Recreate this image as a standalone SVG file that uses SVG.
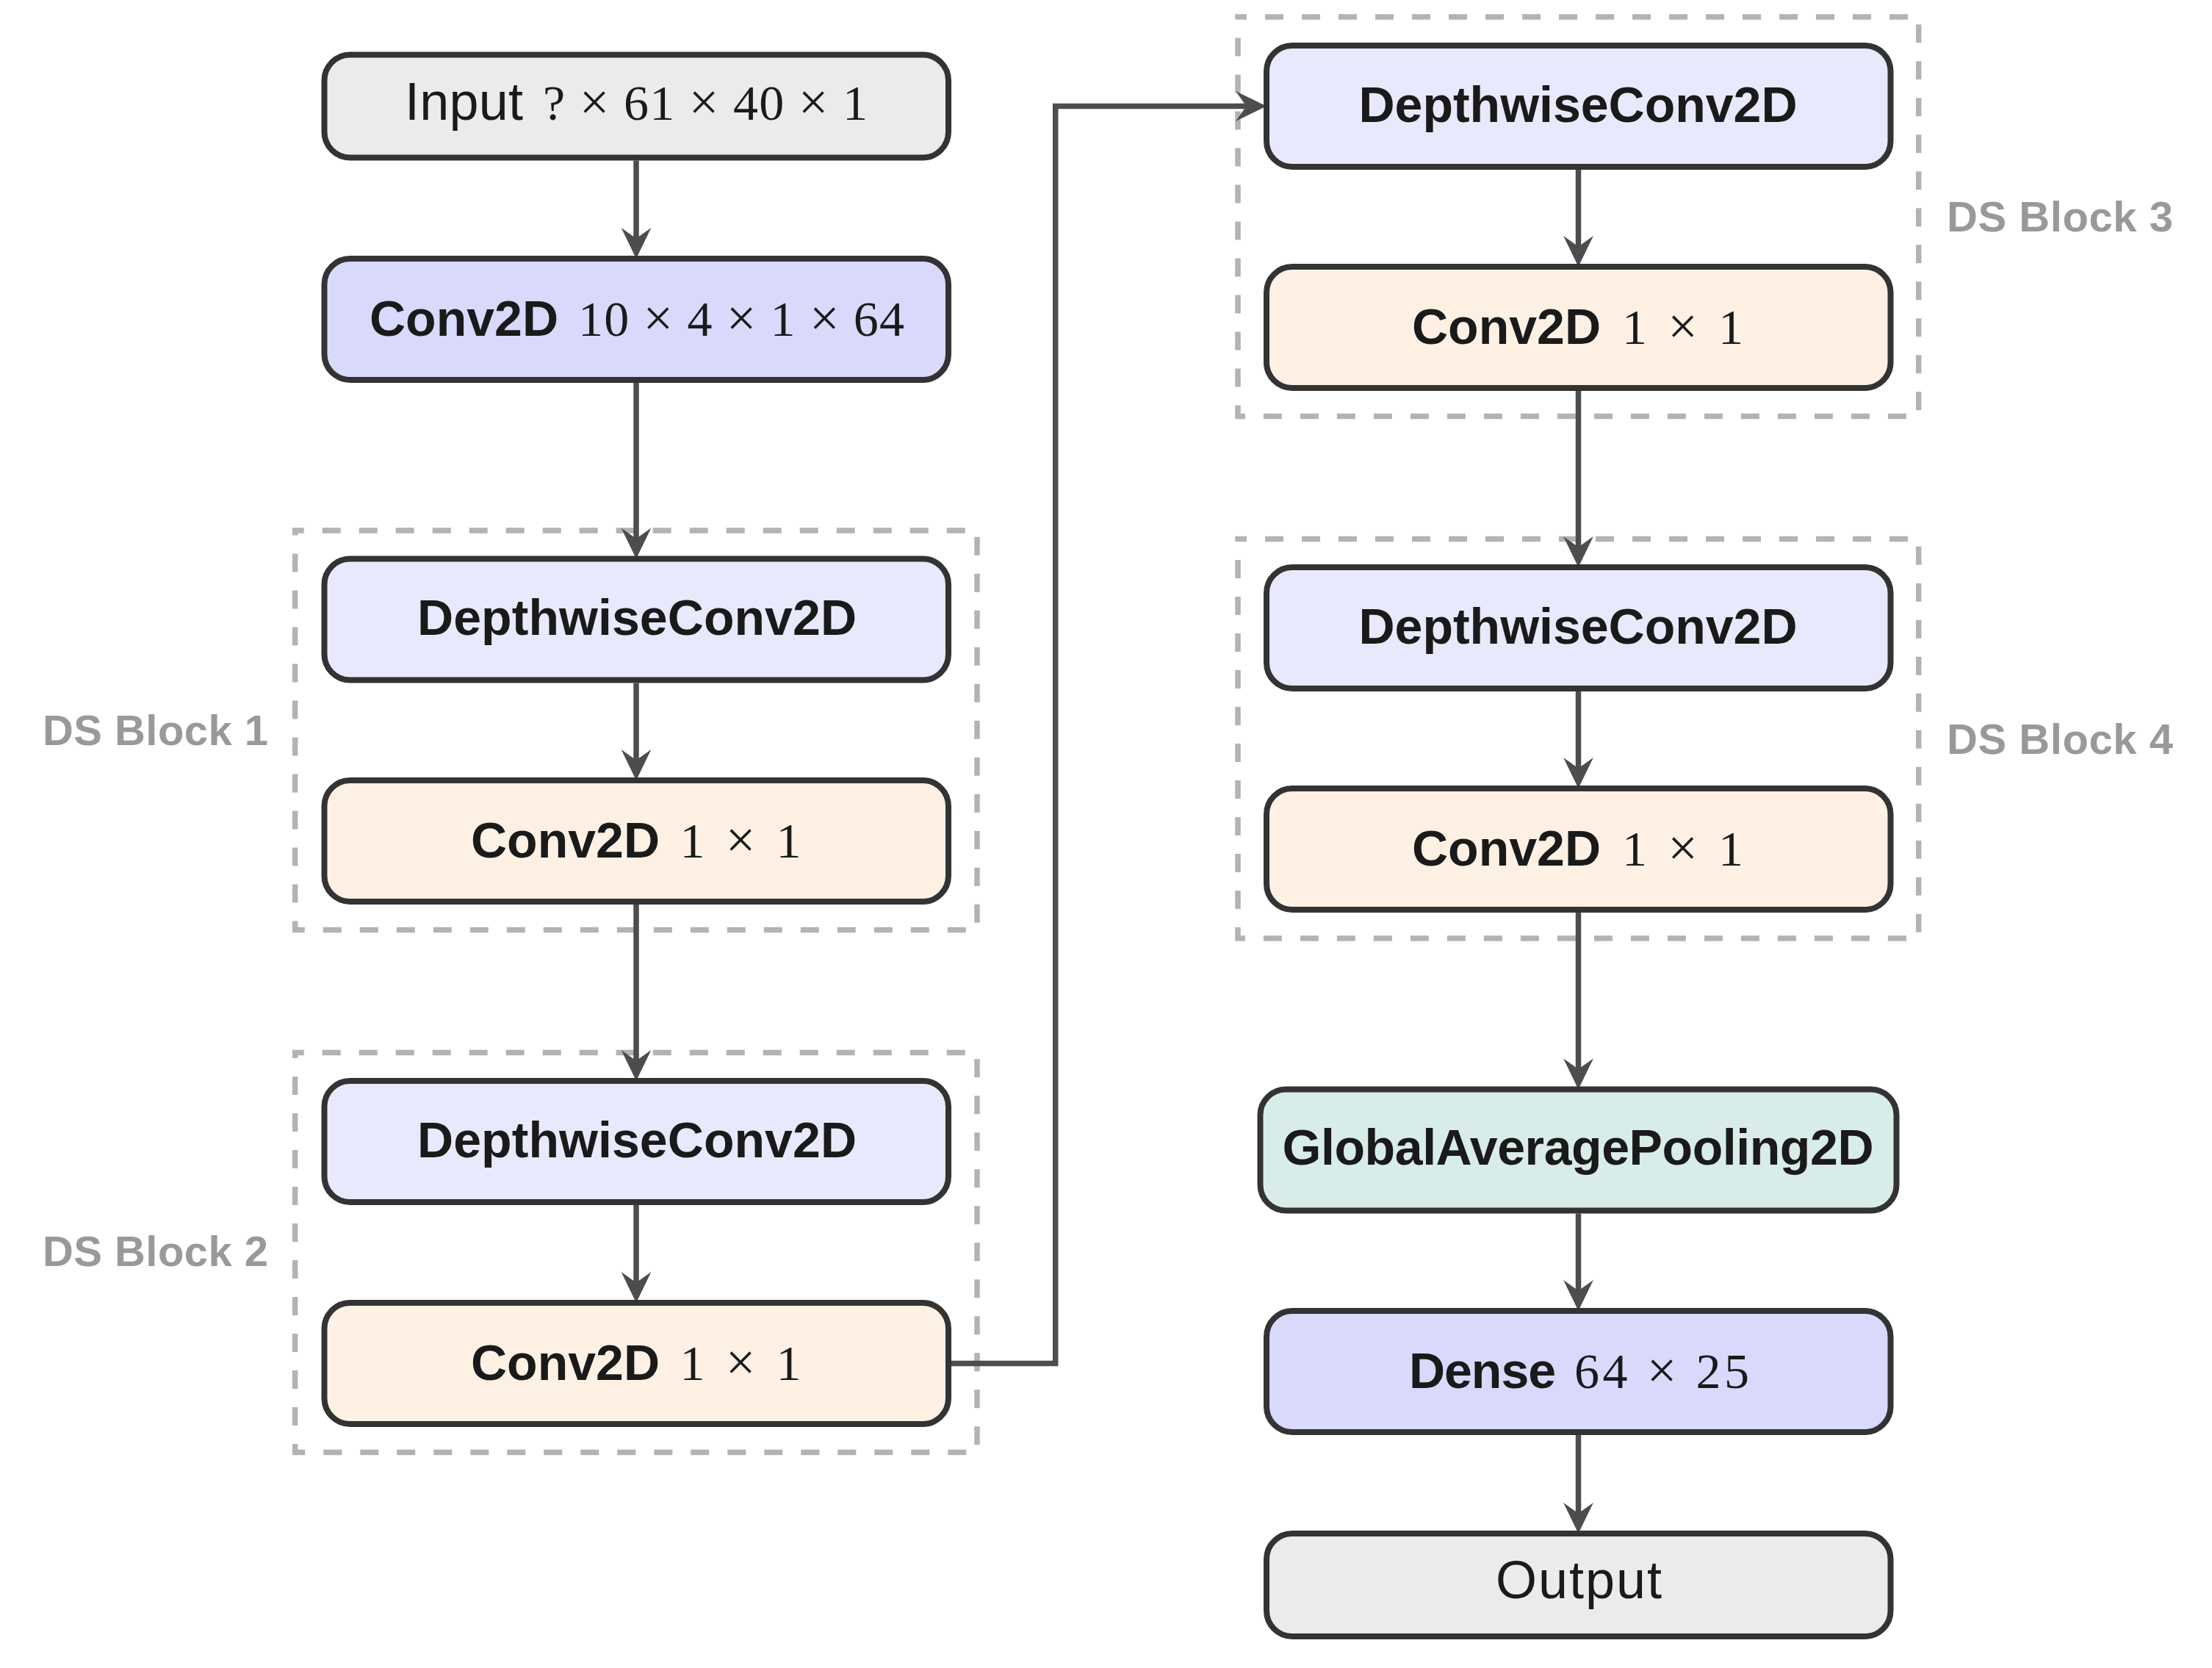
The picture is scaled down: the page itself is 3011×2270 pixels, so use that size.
<svg xmlns="http://www.w3.org/2000/svg" width="3011" height="2270" viewBox="0 0 3011 2270">
<defs>
<style>
.node{stroke:#333333;stroke-width:8}
.gray{fill:#ebebeb}
.blue{fill:#d9d9fc}
.dw{fill:#e8e9fc}
.c11{fill:#fef1e4}
.gap{fill:#d8ecea}
.ds{fill:none;stroke:#b3b3b3;stroke-width:7.5;stroke-dasharray:25 25;stroke-dashoffset:13}
.edge{fill:none;stroke:#4d4d4d;stroke-width:7.5;marker-end:url(#ah)}
.t{font-family:"Liberation Sans",Arial,sans-serif;font-size:68px;fill:#1a1a1a}
.c{text-anchor:middle}
.b{font-weight:bold}
.r{font-size:72px}
.m{font-family:"Liberation Serif","Times New Roman",serif;font-size:68px;font-weight:normal;fill:#1a1a1a}
.x{font-size:72px}
.lbl{font-family:"Liberation Sans",Arial,sans-serif;font-size:58px;font-weight:bold;fill:#999999;text-anchor:middle}
</style>
<marker id="ah" markerUnits="userSpaceOnUse" markerWidth="60" markerHeight="60" viewBox="-20 -20 50 40" refX="0" refY="0" orient="auto">
<path d="M20,0 L-15,-17 L-3,0 L-15,17 Z" fill="#4d4d4d"/>
</marker>
</defs>

<g id="groups">
<g id="ds1"><rect class="ds" x="401.7" y="722" width="928.3" height="543.5"/><text class="lbl" x="211.5" y="1014" textLength="307">DS Block 1</text></g>
<g id="ds2"><rect class="ds" x="401.7" y="1432.5" width="928.3" height="544"/><text class="lbl" x="211.5" y="1723" textLength="307">DS Block 2</text></g>
<g id="ds3"><rect class="ds" x="1685" y="23" width="926.7" height="543.5"/><text class="lbl" x="2804" y="315" textLength="308">DS Block 3</text></g>
<g id="ds4"><rect class="ds" x="1685" y="733.5" width="926.7" height="543.5"/><text class="lbl" x="2804" y="1025.5" textLength="308">DS Block 4</text></g>
</g>

<g id="connectors">
<path class="edge" d="M866,218.5 V328"/>
<path class="edge" d="M866,521 V736.5"/>
<path class="edge" d="M866,929.5 V1038"/>
<path class="edge" d="M866,1231 V1447"/>
<path class="edge" d="M866,1640 V1749"/>
<path class="edge" d="M1295,1855.5 H1436.7 V144.5 H1700"/>
<path class="edge" d="M2148.5,231 V339"/>
<path class="edge" d="M2148.5,532 V748"/>
<path class="edge" d="M2148.5,941 V1049"/>
<path class="edge" d="M2148.5,1242 V1458.5"/>
<path class="edge" d="M2148.5,1651.5 V1760"/>
<path class="edge" d="M2148.5,1953 V2063"/>
</g>

<g id="input"><rect class="node gray" x="441.5" y="74.5" width="849.5" height="140" rx="35"/>
<text class="t r" x="551" y="163" textLength="161">Input</text>
<text class="m" x="739" y="163" textLength="442">? <tspan class="x">×</tspan> 61 <tspan class="x">×</tspan> 40 <tspan class="x">×</tspan> 1</text></g>

<g id="conv2d"><rect class="node blue" x="441.5" y="352" width="849.5" height="165" rx="35"/>
<text class="t b" x="503" y="457" textLength="257">Conv2D</text>
<text class="m" x="787" y="457" textLength="444">10 <tspan class="x">×</tspan> 4 <tspan class="x">×</tspan> 1 <tspan class="x">×</tspan> 64</text></g>

<g id="dw1"><rect class="node dw" x="441.5" y="760.5" width="849.5" height="165" rx="35"/>
<text class="t b c" x="867" y="864" textLength="598">DepthwiseConv2D</text></g>

<g id="pw1"><rect class="node c11" x="441.5" y="1062" width="849.5" height="165" rx="35"/>
<text class="t b" x="641" y="1167" textLength="257">Conv2D</text>
<text class="m" x="925.6" y="1167" textLength="165">1 <tspan class="x">×</tspan> 1</text></g>

<g id="dw2"><rect class="node dw" x="441.5" y="1471" width="849.5" height="165" rx="35"/>
<text class="t b c" x="867" y="1574.5" textLength="598">DepthwiseConv2D</text></g>

<g id="pw2"><rect class="node c11" x="441.5" y="1773" width="849.5" height="165" rx="35"/>
<text class="t b" x="641" y="1878" textLength="257">Conv2D</text>
<text class="m" x="925.6" y="1878" textLength="165">1 <tspan class="x">×</tspan> 1</text></g>

<g id="dw3"><rect class="node dw" x="1724" y="62" width="849.5" height="165" rx="35"/>
<text class="t b c" x="2148" y="165.5" textLength="597">DepthwiseConv2D</text></g>

<g id="pw3"><rect class="node c11" x="1724" y="363" width="849.5" height="165" rx="35"/>
<text class="t b" x="1922" y="468" textLength="257">Conv2D</text>
<text class="m" x="2208" y="468" textLength="165">1 <tspan class="x">×</tspan> 1</text></g>

<g id="dw4"><rect class="node dw" x="1724" y="772" width="849.5" height="165" rx="35"/>
<text class="t b c" x="2148" y="875.5" textLength="597">DepthwiseConv2D</text></g>

<g id="pw4"><rect class="node c11" x="1724" y="1073" width="849.5" height="165" rx="35"/>
<text class="t b" x="1922" y="1178" textLength="257">Conv2D</text>
<text class="m" x="2208" y="1178" textLength="165">1 <tspan class="x">×</tspan> 1</text></g>

<g id="gap"><rect class="node gap" x="1715.5" y="1482.5" width="866" height="165" rx="35"/>
<text class="t b c" x="2148" y="1585" textLength="805">GlobalAveragePooling2D</text></g>

<g id="dense"><rect class="node blue" x="1724" y="1784" width="849.5" height="165" rx="35"/>
<text class="t b" x="1918" y="1889" textLength="200">Dense</text>
<text class="m" x="2143" y="1889" textLength="238">64 <tspan class="x">×</tspan> 25</text></g>

<g id="output"><rect class="node gray" x="1724" y="2087" width="849.5" height="140" rx="35"/>
<text class="t r c" x="2149" y="2175" textLength="226">Output</text></g>
</svg>
